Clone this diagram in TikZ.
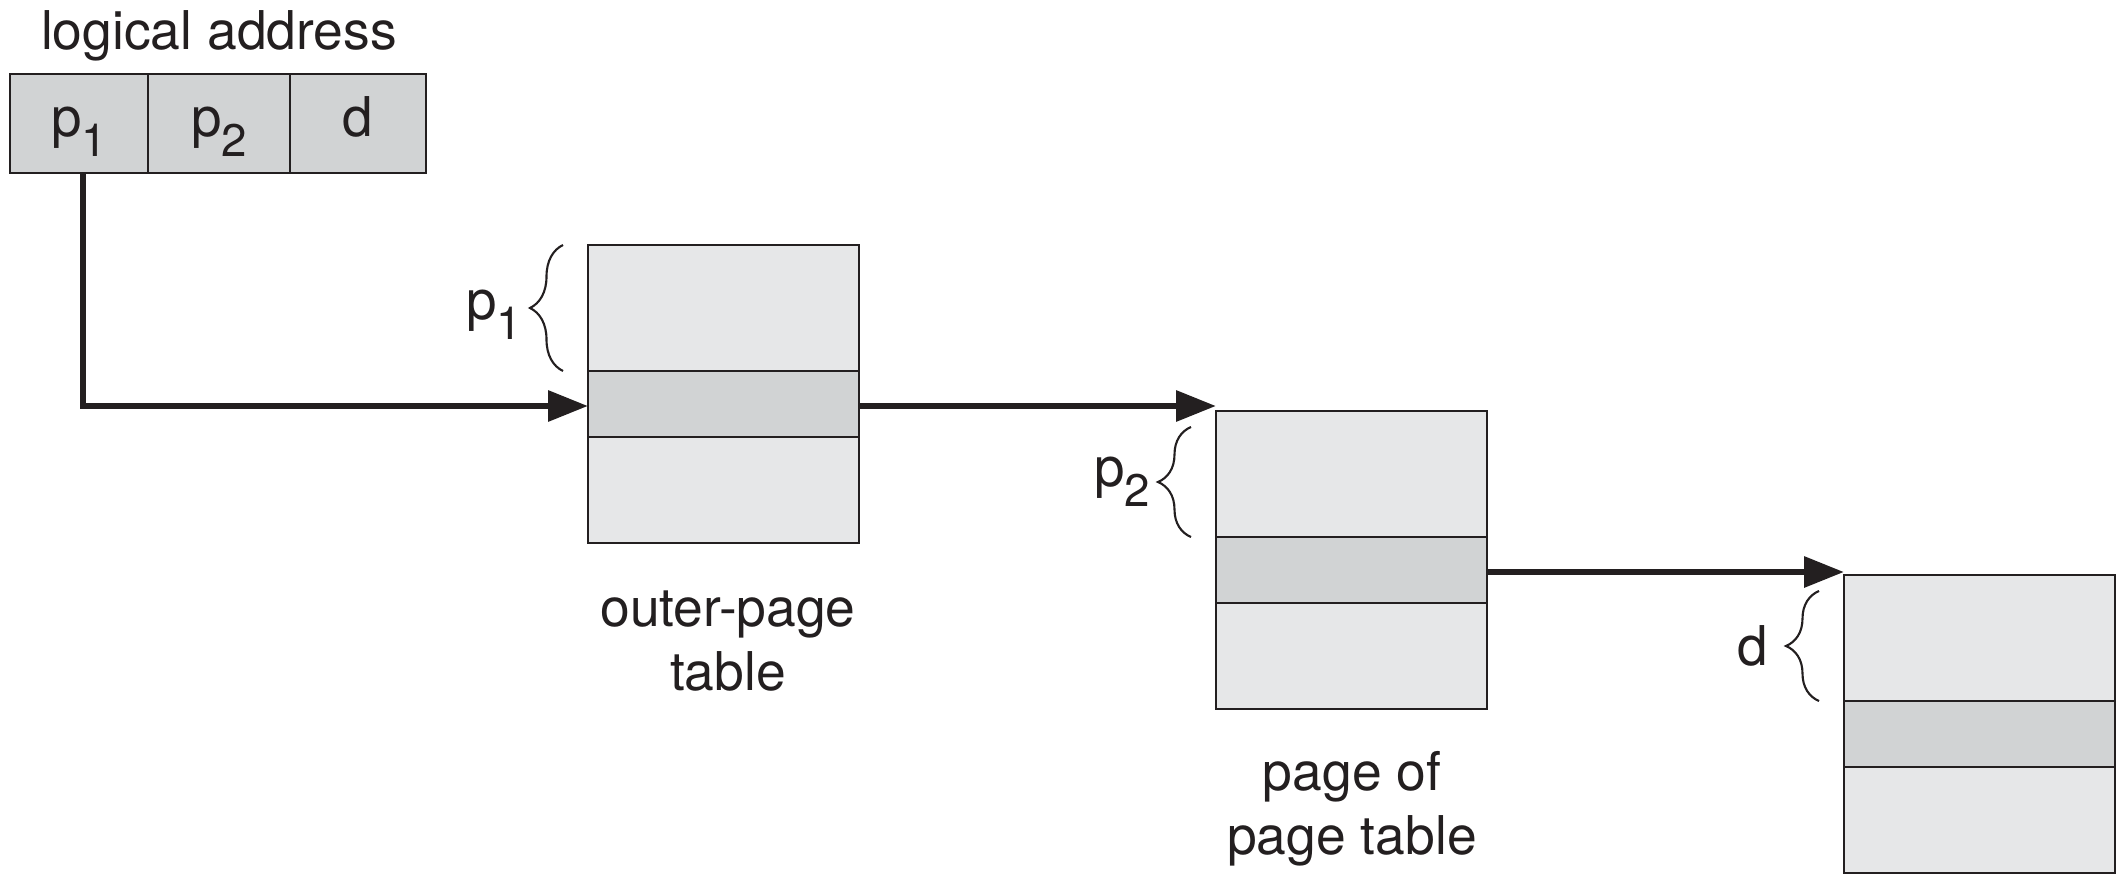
\documentclass[tikz,border=0pt]{standalone}
\usepackage{fontspec}
\setmainfont{TeX Gyre Heros}
\usetikzlibrary{positioning}
\usetikzlibrary{arrows.meta}
\usetikzlibrary{decorations.pathreplacing}

\definecolor{rowlight}{HTML}{E6E7E8}
\definecolor{rowdark}{HTML}{D1D3D4}
\definecolor{ink}{HTML}{231F20}

\newcommand{\idx}[1]{\raisebox{-0.36em}{\fontsize{13}{13}\selectfont #1}}

\begin{document}
\begin{tikzpicture}[%
  >={Triangle[length=4mm, width=3mm]},
  cell/.style={rectangle, draw=ink, line width=0.8pt, fill=rowlight,
    inner sep=0pt, outer sep=0pt, minimum width=2.71cm},
  addr/.style={cell, fill=rowdark, minimum height=0.99cm,
    text height=0.45cm, text depth=0.18cm, text=ink,
    font=\fontsize{15.6}{18}\selectfont},
  link/.style={draw=ink, line width=1.8pt, ->},
  curly/.style={draw=ink, line width=0.6pt, decorate,
    decoration={brace, amplitude=0.33cm}},
  lbl/.style={inner sep=0pt, text=ink, align=center,
    font=\fontsize{15.2}{18.2}\selectfont},
  sym/.style={inner sep=0pt, text=ink, font=\fontsize{15.6}{18}\selectfont},
]

  \useasboundingbox (0,0) rectangle (21.16,8.74);

  % logical address
  \node[lbl] (la) at (2.19, 8.38) {logical address};
  \node[addr, minimum width=1.38cm, anchor=north west] (p1) at (0.10, 8.00) {p\idx{1}};
  \node[addr, minimum width=1.42cm, right=0pt of p1] (p2) {p\idx{2}};
  \node[addr, minimum width=1.36cm, right=0pt of p2] (d) {d};

  % outer-page table
  \node[cell, minimum height=1.26cm, anchor=north west] (otop) at (5.88, 6.29) {};
  \node[cell, minimum height=0.66cm, fill=rowdark, below=0pt of otop] (omid) {};
  \node[cell, minimum height=1.06cm, below=0pt of omid] (obot) {};
  \node[lbl] (oname) at (7.28, 2.33) {outer-page\\table};

  % page of page table
  \node[cell, minimum height=1.26cm, anchor=north west] (ptop) at (12.16, 4.63) {};
  \node[cell, minimum height=0.66cm, fill=rowdark, below=0pt of ptop] (pmid) {};
  \node[cell, minimum height=1.06cm, below=0pt of pmid] (pbot) {};
  \node[lbl] (pname) at (13.52, 0.65) {page of\\page table};

  % frame
  \node[cell, minimum height=1.26cm, anchor=north west] (ftop) at (18.44, 2.99) {};
  \node[cell, minimum height=0.66cm, fill=rowdark, below=0pt of ftop] (fmid) {};
  \node[cell, minimum height=1.06cm, below=0pt of fmid] (fbot) {};

  % braces
  \draw[curly] ([xshift=-0.25cm]otop.south west) -- ([xshift=-0.25cm]otop.north west)
    node[sym, midway, left=0.4cm, yshift=-0.07cm] (lp1) {p\idx{1}};
  \draw[curly] ([xshift=-0.25cm]ptop.south west) -- ([xshift=-0.25cm, yshift=-0.16cm]ptop.north west)
    node[sym, midway, left=0.4cm] (lp2) {p\idx{2}};
  \draw[curly] ([xshift=-0.25cm]ftop.south west) -- ([xshift=-0.25cm, yshift=-0.16cm]ftop.north west)
    node[sym, midway, left=0.5cm] (ld) {d};

  % links
  \draw[link] ([xshift=0.04cm]p1.south) |- ([yshift=-0.02cm]omid.west);
  \draw[link] ([yshift=-0.02cm]omid.east) -- ([yshift=-0.02cm]omid.east -| ptop.west);
  \draw[link] ([yshift=-0.02cm]pmid.east) -- ([yshift=-0.02cm]pmid.east -| ftop.west);

\end{tikzpicture}
\end{document}
